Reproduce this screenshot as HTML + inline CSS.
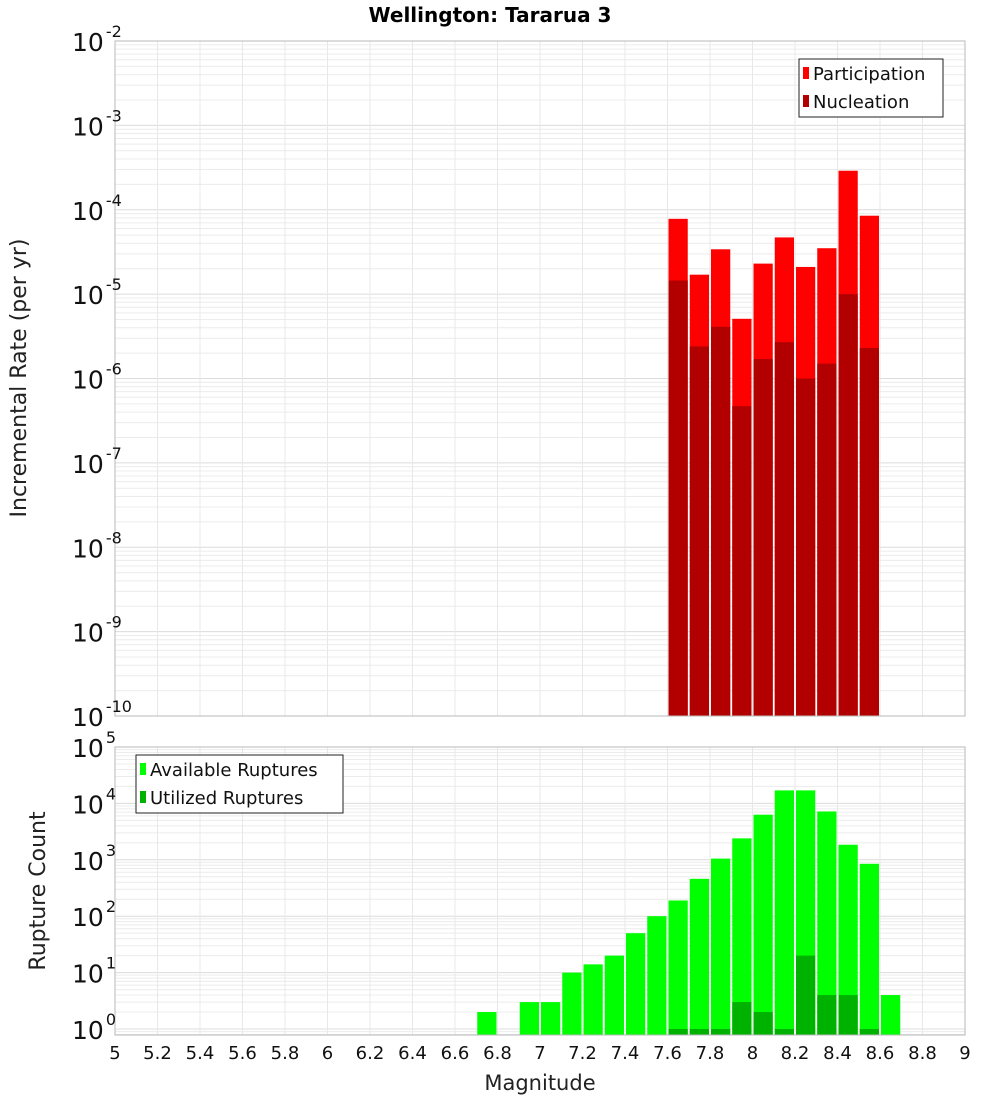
<!DOCTYPE html>
<html><head><meta charset="utf-8"><style>
html,body{margin:0;padding:0;background:#fff;}
svg{display:block;font-family:"DejaVu Sans","Liberation Sans",sans-serif;}
</style></head><body>
<svg id="c" width="1000" height="1100" xmlns="http://www.w3.org/2000/svg">
<text x="490" y="22" text-anchor="middle" font-size="20" font-weight="bold">Wellington: Tararua 3</text>
<text transform="translate(26,378) rotate(-90)" text-anchor="middle" font-size="22" fill="#222">Incremental Rate (per yr)</text>
<text transform="translate(45,891) rotate(-90)" text-anchor="middle" font-size="22" fill="#222">Rupture Count</text>
<text x="540" y="1090" text-anchor="middle" font-size="21" fill="#222">Magnitude</text>
</svg>
<script>
const binStartsTop=[7.6,7.7,7.8,7.9,8.0,8.1,8.2,8.3,8.4,8.5];
const participation=[7.8e-5,1.7e-5,3.4e-5,5.1e-6,2.3e-5,4.7e-5,2.1e-5,3.5e-5,2.9e-4,8.5e-5];
const nucleation=[1.45e-5,2.4e-6,4.1e-6,4.7e-7,1.7e-6,2.7e-6,1.0e-6,1.5e-6,1.0e-5,2.3e-6];
const binStartsBottom=[6.7,6.8,6.9,7.0,7.1,7.2,7.3,7.4,7.5,7.6,7.7,7.8,7.9,8.0,8.1,8.2,8.3,8.4,8.5,8.6];
const available=[2,0,3,3,10,14,20,50,100,190,460,1050,2400,6300,17000,17000,7200,1850,850,4];
const utilized=[0,0,0,0,0,0,0,0,0,1,1,1,3,2,1,20,4,4,1,0];
const xTicks=[5,5.2,5.4,5.6,5.8,6,6.2,6.4,6.6,6.8,7,7.2,7.4,7.6,7.8,8,8.2,8.4,8.6,8.8,9];
const topExps=[-10,-9,-8,-7,-6,-5,-4,-3,-2];
const botExps=[0,1,2,3,4,5];

const svg=document.getElementById('c');
const NS='http://www.w3.org/2000/svg';
function mk(tag,attrs,parent){const e=document.createElementNS(NS,tag);for(const k in attrs)e.setAttribute(k,attrs[k]);(parent||svg).appendChild(e);return e;}
const X0=115,X1=965;
const x=m=>X0+(m-5)/4*(X1-X0);
const T0=41,T1=716;
const yTop=v=>T1-(Math.log10(v)+10)/8*(T1-T0);
const B0=747,B1=1035,Bz=1029;
const yBot=v=>Bz-Math.log10(v)*(Bz-B0)/5;

function panel(top,bottom,yfn,exps,name){
  const g=mk('g',{});
  
  
  for(let i=0;i<exps.length;i++){
    const e=exps[i];
    for(let k=1;k<10;k++){
      const v=k*Math.pow(10,e);
      const yy=yfn(v);
      if(yy<top-0.5||yy>bottom+0.5)continue;
      mk('line',{x1:X0,x2:X1,y1:yy,y2:yy,stroke:k==1?'#dcdcdc':'#ececec','stroke-width':1},g);
    }
  }
  if(name==='bottom'){for(let k=8;k<10;k++){const yy=yfn(k/10);if(yy<=bottom)mk('line',{x1:X0,x2:X1,y1:yy,y2:yy,stroke:'#ececec'},g);}}
  for(const t of xTicks){mk('line',{x1:x(t),x2:x(t),y1:top,y2:bottom,stroke:'#e8e8e8'},g);}
}
panel(T0,T1,yTop,topExps,'top');
panel(B0,B1,yBot,botExps,'bottom');

binStartsTop.forEach((m,i)=>{
  const r=mk('rect',{x:x(m)+1,width:x(m+0.1)-x(m)-2,y:yTop(participation[i]),height:T1-yTop(participation[i]),fill:'#ff0000'});
  
  
  const n=mk('rect',{x:x(m)+1,width:x(m+0.1)-x(m)-2,y:yTop(nucleation[i]),height:T1-yTop(nucleation[i]),fill:'#b20000'});
  
  
});
binStartsBottom.forEach((m,i)=>{
  if(available[i]>0){
    const r=mk('rect',{x:x(m)+1,width:x(m+0.1)-x(m)-2,y:yBot(available[i]),height:B1-yBot(available[i]),fill:'#00ff00'});
    
    
  }
  if(utilized[i]>0){
    const u=mk('rect',{x:x(m)+1,width:x(m+0.1)-x(m)-2,y:yBot(utilized[i]),height:B1-yBot(utilized[i]),fill:'#00b200'});
    
    
  }
});
const f1=mk('rect',{x:X0,y:T0,width:X1-X0,height:T1-T0,fill:'none',stroke:'#b8b8b8'});


const f2=mk('rect',{x:X0,y:B0,width:X1-X0,height:B1-B0,fill:'none',stroke:'#b8b8b8'});



function ylab(yy,e,name){
  const t=mk('text',{x:72,y:yy+10,'font-size':25,fill:'#111'});
  
  
  t.textContent='10';
  const s=mk('tspan',{dx:2,dy:-14,'font-size':16},t);
  s.textContent=String(e);
}
topExps.forEach(e=>ylab(yTop(Math.pow(10,e)),e,'top-y-tick-label'));
botExps.forEach(e=>ylab(yBot(Math.pow(10,e)),e,'bottom-y-tick-label'));
xTicks.forEach(t=>{
  const l=mk('text',{x:x(t),y:1059,'text-anchor':'middle','font-size':18,fill:'#111'});
  
  
  l.textContent=String(t);
});
function legend(lx,ly,w,items,name){
  const g=mk('g',{});
  
  
  mk('rect',{x:lx,y:ly,width:w,height:58,fill:'#fff',stroke:'#222'},g);
  items.forEach((it,i)=>{
    mk('rect',{x:lx+4,y:ly+8+i*28,width:6,height:12,fill:it[1]},g);
    const t=mk('text',{x:lx+14,y:ly+21+i*28,'font-size':18,fill:'#111'},g);
    t.textContent=it[0];
  });
}
legend(799,59,144,[['Participation','#ff0000'],['Nucleation','#b20000']],'top-legend');
legend(136,755,207,[['Available Ruptures','#00ff00'],['Utilized Ruptures','#00b200']],'bottom-legend');
</script>
</body></html>
